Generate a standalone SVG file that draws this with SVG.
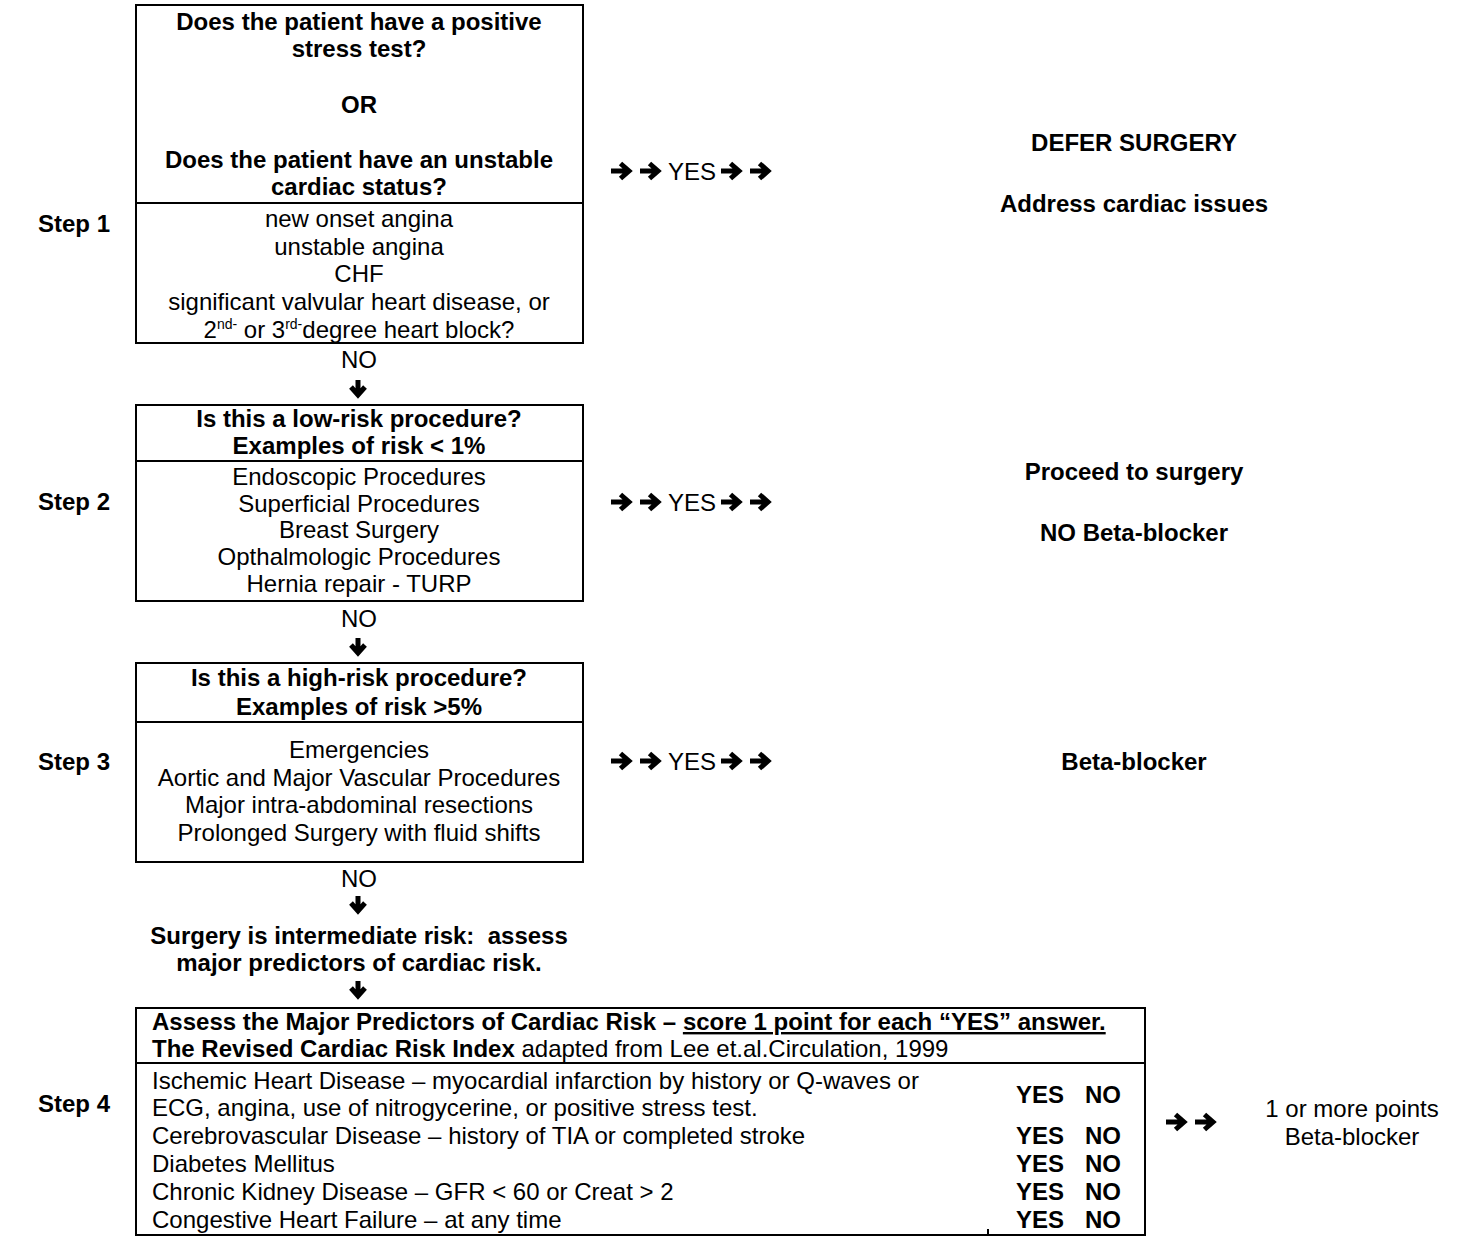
<svg xmlns="http://www.w3.org/2000/svg" xmlns:xlink="http://www.w3.org/1999/xlink" width="1465" height="1237" viewBox="0 0 1465 1237">
<style>
text{font-family:"Liberation Sans",Arial,sans-serif;font-size:24px;fill:#000}
.b{font-weight:bold}
.c{text-anchor:middle}
.box{fill:#fff;stroke:#000;stroke-width:2}
.div{stroke:#000;stroke-width:2}
.sup{font-size:14px}
</style>
<defs>
<path id="ra" d="M0 0H17M9.5 -7.5L18 0L9.5 7.5" fill="none" stroke="#000" stroke-width="5" stroke-linejoin="miter" stroke-miterlimit="10"/>
<path id="da" d="M0 0V14M-7 7L0 15L7 7" fill="none" stroke="#000" stroke-width="5" stroke-linejoin="miter" stroke-miterlimit="10"/>
</defs>
<rect width="1465" height="1237" fill="#fff"/>

<g id="step-labels">
<text class="b" x="38" y="232">Step 1</text>
<text class="b" x="38" y="510">Step 2</text>
<text class="b" x="38" y="770">Step 3</text>
<text class="b" x="38" y="1112">Step 4</text>
</g>

<g id="box1">
<rect class="box" x="136" y="5" width="447" height="338"/>
<line class="div" x1="136" y1="203" x2="583" y2="203"/>
<text class="b c" x="359" y="30">Does the patient have a positive</text>
<text class="b c" x="359" y="57">stress test?</text>
<text class="b c" x="359" y="113">OR</text>
<text class="b c" x="359" y="168">Does the patient have an unstable</text>
<text class="b c" x="359" y="195">cardiac status?</text>
<text class="c" x="359" y="227">new onset angina</text>
<text class="c" x="359" y="255">unstable angina</text>
<text class="c" x="359" y="282">CHF</text>
<text class="c" x="359" y="310">significant valvular heart disease, or</text>
<text class="c" x="359" y="338">2<tspan class="sup" dy="-9">nd-</tspan><tspan dy="9"> or 3</tspan><tspan class="sup" dy="-9">rd-</tspan><tspan dy="9">degree heart block?</tspan></text>
</g>

<g id="box2">
<rect class="box" x="136" y="405" width="447" height="196"/>
<line class="div" x1="136" y1="461" x2="583" y2="461"/>
<text class="b c" x="359" y="427">Is this a low-risk procedure?</text>
<text class="b c" x="359" y="454">Examples of risk &lt; 1%</text>
<text class="c" x="359" y="485">Endoscopic Procedures</text>
<text class="c" x="359" y="512">Superficial Procedures</text>
<text class="c" x="359" y="538">Breast Surgery</text>
<text class="c" x="359" y="565">Opthalmologic Procedures</text>
<text class="c" x="359" y="592">Hernia repair - TURP</text>
</g>

<g id="box3">
<rect class="box" x="136" y="663" width="447" height="199"/>
<line class="div" x1="136" y1="722" x2="583" y2="722"/>
<text class="b c" x="359" y="686">Is this a high-risk procedure?</text>
<text class="b c" x="359" y="715">Examples of risk &gt;5%</text>
<text class="c" x="359" y="758">Emergencies</text>
<text class="c" x="359" y="786">Aortic and Major Vascular Procedures</text>
<text class="c" x="359" y="813">Major intra-abdominal resections</text>
<text class="c" x="359" y="841">Prolonged Surgery with fluid shifts</text>
</g>

<g id="intermediate">
<text class="b c" x="359" y="944" xml:space="preserve">Surgery is intermediate risk:  assess</text>
<text class="b c" x="359" y="971">major predictors of cardiac risk.</text>
</g>

<g id="box4">
<rect class="box" x="136" y="1008" width="1009" height="227"/>
<line class="div" x1="136" y1="1063" x2="1145" y2="1063"/>
<line class="div" x1="988" y1="1229" x2="988" y2="1236"/>
<text class="b" x="152" y="1030">Assess the Major Predictors of Cardiac Risk – <tspan text-decoration="underline">score 1 point for each “YES” answer.</tspan></text>
<text x="152" y="1057"><tspan class="b">The Revised Cardiac Risk Index</tspan> adapted from Lee et.al.Circulation, 1999</text>
<text x="152" y="1089">Ischemic Heart Disease – myocardial infarction by history or Q-waves or</text>
<text x="152" y="1116">ECG, angina, use of nitrogycerine, or positive stress test.</text>
<text x="152" y="1144">Cerebrovascular Disease – history of TIA or completed stroke</text>
<text x="152" y="1172">Diabetes Mellitus</text>
<text x="152" y="1200">Chronic Kidney Disease – GFR &lt; 60 or Creat &gt; 2</text>
<text x="152" y="1228">Congestive Heart Failure – at any time</text>
<text class="b" x="1016" y="1103">YES</text><text class="b" x="1085" y="1103">NO</text>
<text class="b" x="1016" y="1144">YES</text><text class="b" x="1085" y="1144">NO</text>
<text class="b" x="1016" y="1172">YES</text><text class="b" x="1085" y="1172">NO</text>
<text class="b" x="1016" y="1200">YES</text><text class="b" x="1085" y="1200">NO</text>
<text class="b" x="1016" y="1228">YES</text><text class="b" x="1085" y="1228">NO</text>
</g>

<g id="out1">
<text class="b c" x="1134" y="151">DEFER SURGERY</text>
<text class="b c" x="1134" y="212">Address cardiac issues</text>
</g>
<g id="out2">
<text class="b c" x="1134" y="480">Proceed to surgery</text>
<text class="b c" x="1134" y="541">NO Beta-blocker</text>
</g>
<g id="out3">
<text class="b c" x="1134" y="770">Beta-blocker</text>
</g>
<g id="out4">
<text class="c" x="1352" y="1117">1 or more points</text>
<text class="c" x="1352" y="1145">Beta-blocker</text>
</g>

<g id="connectors">
<text class="c" x="359" y="368">NO</text>
<use xlink:href="#da" x="358" y="380"/>
<text class="c" x="359" y="627">NO</text>
<use xlink:href="#da" x="358" y="638"/>
<text class="c" x="359" y="887">NO</text>
<use xlink:href="#da" x="358" y="896"/>
<use xlink:href="#da" x="358" y="981"/>

<use xlink:href="#ra" x="611" y="171"/><use xlink:href="#ra" x="640" y="171"/>
<text x="668" y="180">YES</text>
<use xlink:href="#ra" x="721" y="171"/><use xlink:href="#ra" x="750" y="171"/>

<use xlink:href="#ra" x="611" y="502"/><use xlink:href="#ra" x="640" y="502"/>
<text x="668" y="511">YES</text>
<use xlink:href="#ra" x="721" y="502"/><use xlink:href="#ra" x="750" y="502"/>

<use xlink:href="#ra" x="611" y="761"/><use xlink:href="#ra" x="640" y="761"/>
<text x="668" y="770">YES</text>
<use xlink:href="#ra" x="721" y="761"/><use xlink:href="#ra" x="750" y="761"/>

<use xlink:href="#ra" x="1166" y="1122"/><use xlink:href="#ra" x="1195" y="1122"/>
</g>
</svg>
